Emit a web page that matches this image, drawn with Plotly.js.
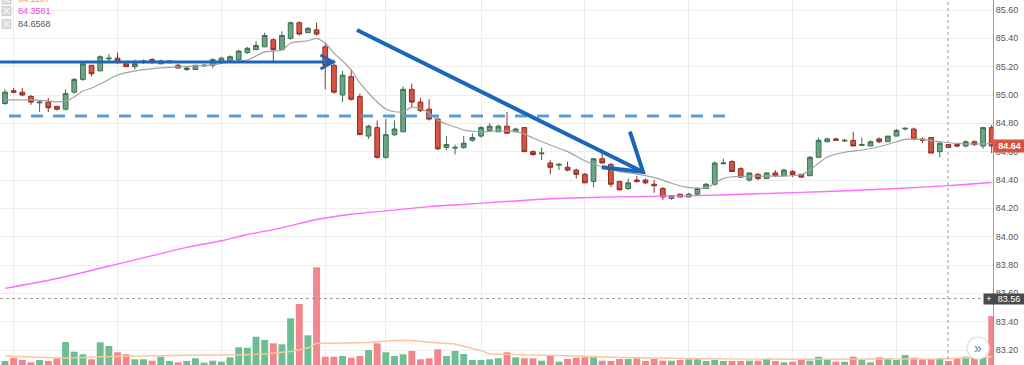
<!DOCTYPE html>
<html>
<head>
<meta charset="utf-8">
<script src="https://cdn.plot.ly/plotly-3.0.1.min.js"></script>
<style>
html,body{margin:0;padding:0;background:#fff;overflow:hidden;}
#chart{width:1024px;height:365px;}
</style>
</head>
<body>
<div id="chart"></div>
<script>
// ---- Data (candle index 0..114) ----
const opens = [84.94,85.03,85.02,84.99,84.945,84.95,84.92,84.90,85.02,85.11,85.21,85.17,85.255,85.26,85.22,85.20,85.235,85.25,85.22,85.235,85.21,85.18,85.18,85.205,85.21,85.23,85.24,85.25,85.30,85.32,85.34,85.39,85.32,85.40,85.51,85.44,85.46,85.34,85.21,85.00,85.13,84.99,84.71,84.77,84.56,84.72,84.74,85.04,84.95,84.90,84.83,84.63,84.625,84.63,84.68,84.71,84.75,84.74,84.78,84.74,84.77,84.60,84.585,84.52,84.505,84.49,84.47,84.44,84.39,84.55,84.51,84.39,84.34,84.40,84.40,84.37,84.34,84.27,84.30,84.28,84.30,84.34,84.37,84.515,84.53,84.48,84.40,84.44,84.41,84.45,84.43,84.46,84.44,84.43,84.56,84.67,84.69,84.675,84.68,84.645,84.64,84.69,84.67,84.71,84.76,84.76,84.69,84.70,84.60,84.65,84.65,84.64,84.67,84.64,84.77];
const highs = [85.04,85.05,85.05,85.00,84.96,84.98,84.92,85.04,85.12,85.23,85.21,85.28,85.29,85.30,85.22,85.25,85.25,85.26,85.25,85.24,85.22,85.20,85.21,85.22,85.26,85.27,85.28,85.32,85.34,85.38,85.44,85.40,85.45,85.52,85.52,85.48,85.51,85.37,85.25,85.17,85.18,85.01,84.79,84.82,84.83,84.82,85.06,85.08,84.98,84.97,84.84,84.71,84.65,84.71,84.73,84.78,84.80,84.79,84.88,84.77,84.77,84.61,84.63,84.54,84.52,84.53,84.48,84.45,84.55,84.59,84.52,84.39,84.41,84.43,84.41,84.40,84.35,84.29,84.30,84.31,84.35,84.38,84.53,84.55,84.54,84.49,84.45,84.45,84.45,84.47,84.48,84.47,84.44,84.57,84.70,84.70,84.70,84.69,84.74,84.70,84.68,84.70,84.71,84.76,84.77,84.77,84.70,84.70,84.67,84.65,84.65,84.68,84.68,84.77,84.79];
const lows = [84.93,85.01,84.99,84.93,84.88,84.88,84.89,84.89,85.01,85.10,85.13,85.17,85.24,85.22,85.20,85.18,85.22,85.22,85.22,85.22,85.19,85.17,85.18,85.20,85.19,85.22,85.23,85.24,85.29,85.32,85.34,85.24,85.32,85.39,85.42,85.44,85.42,85.04,85.01,84.95,84.96,84.72,84.69,84.55,84.55,84.71,84.74,84.91,84.88,84.82,84.61,84.61,84.58,84.62,84.67,84.70,84.74,84.74,84.73,84.74,84.60,84.57,84.54,84.44,84.47,84.46,84.41,84.38,84.35,84.52,84.35,84.33,84.33,84.38,84.37,84.31,84.26,84.26,84.28,84.28,84.29,84.34,84.36,84.51,84.46,84.42,84.39,84.40,84.41,84.42,84.43,84.42,84.42,84.43,84.56,84.67,84.68,84.67,84.64,84.64,84.64,84.66,84.67,84.71,84.75,84.68,84.66,84.59,84.56,84.63,84.63,84.63,84.64,84.62,84.59];
const closes = [85.02,85.02,85.00,84.95,84.95,84.91,84.90,85.01,85.11,85.22,85.15,85.27,85.26,85.24,85.20,85.22,85.24,85.23,85.24,85.24,85.19,85.19,85.21,85.21,85.25,85.26,85.27,85.31,85.33,85.35,85.42,85.32,85.42,85.51,85.43,85.47,85.43,85.21,85.02,85.14,84.97,84.72,84.78,84.56,84.72,84.76,85.04,84.95,84.89,84.83,84.62,84.65,84.63,84.66,84.70,84.77,84.78,84.78,84.73,84.76,84.60,84.58,84.59,84.49,84.51,84.47,84.44,84.38,84.55,84.52,84.37,84.33,84.38,84.39,84.38,84.36,84.28,84.29,84.28,84.30,84.34,84.37,84.52,84.52,84.46,84.42,84.45,84.41,84.45,84.43,84.47,84.44,84.42,84.56,84.68,84.69,84.68,84.68,84.64,84.65,84.67,84.67,84.71,84.75,84.765,84.69,84.68,84.59,84.66,84.63,84.64,84.67,84.65,84.77,84.64];
const volumes = [40,73,50,27,50,40,67,230,133,107,57,227,190,127,107,57,57,43,83,40,27,40,67,23,43,33,77,177,173,283,250,217,207,467,610,297,977,83,83,90,73,90,150,217,127,90,107,140,57,67,157,90,140,110,50,50,57,67,127,77,67,67,43,90,33,60,73,77,77,43,40,60,60,67,40,60,43,43,50,57,67,40,50,40,40,40,43,43,63,40,27,33,57,43,83,50,33,33,83,50,27,77,67,50,100,73,57,57,67,40,67,83,110,100,490];

// short moving average (gray), read at sample candles
const smaIdx  = [0,3,5,6,7,8,9,10,11,13,15,18,20,22,24,26,28,30,32,33,35,36,37,38,39,40,41,42,43,44,45,46,47,48,49,50,51,52,53,55,57,59,60,61,63,65,67,69,71,73,75,77,79,81,82,83,84,86,88,90,92,93,94,95,97,99,101,103,104,106,108,110,112,114];
const smaVals = [84.965,84.965,84.958,84.951,84.958,84.986,85.028,85.049,85.078,85.141,85.169,85.191,85.198,85.205,85.212,85.235,85.247,85.304,85.318,85.367,85.383,85.400,85.367,85.296,85.240,85.177,85.085,85.014,84.951,84.901,84.882,84.882,84.915,84.901,84.873,84.824,84.795,84.774,84.753,84.741,84.746,84.741,84.725,84.696,84.647,84.600,84.536,84.492,84.459,84.442,84.419,84.377,84.346,84.344,84.379,84.412,84.423,84.428,84.428,84.428,84.435,84.471,84.518,84.562,84.596,84.612,84.635,84.670,84.687,84.687,84.670,84.658,84.654,84.657];

// long moving average (magenta)
const maIdx  = [0,6,11,17,21,25,28,31,34,36,40,44,49,54,63,69,80,86,92,98,103,109,114];
const maVals = [83.635,83.705,83.777,83.866,83.924,83.971,84.015,84.050,84.092,84.121,84.158,84.182,84.212,84.232,84.268,84.279,84.290,84.301,84.313,84.326,84.340,84.360,84.382];

// volume moving average (orange)
const volMaIdx  = [0,3,7,11,15,19,23,27,30,33,35,36,38,42,45,47,49,52,54,55,56,58,62,66,70,73,77,80,92,103,109,114];
const volMaVals = [90,77,67,83,90,100,100,100,110,135,170,217,217,225,245,245,227,210,165,143,110,107,100,90,77,73,67,63,57,57,63,83];

const yTicks = [83.20,83.40,83.60,83.80,84.00,84.20,84.40,84.60,84.80,85.00,85.20,85.40,85.60];
const timeGridIdx = [1,13,25,37,44,55,67,79,91,103];
const legendTexts = ["84.1187","84.3581","84.6568"];
const lastPrice = 84.64;
const crossPrice = 83.563;
const crossIdx = 108.95;

// ---- Build ----
const idx = opens.map((_, i) => i);
const volColors = idx.map(i => closes[i] >= opens[i] ? '#6cbf93' : '#f2868d');

const W = 993, H = 365;           // plot area in px
const px = v => v / W;            // px -> paper x
const py = v => 1 - v / H;        // px -> paper y

const traces = [
  {type:'bar', x: idx, y: volumes, yaxis:'y2', marker:{color: volColors, line:{width:0}}, hoverinfo:'skip'},
  {type:'scatter', mode:'lines', x: volMaIdx, y: volMaVals, yaxis:'y2', line:{color:'#ffc49a', width:1.4}, hoverinfo:'skip'},
  {type:'scatter', mode:'lines', x: maIdx, y: maVals, line:{color:'#ff6dff', width:1.4, shape:'spline', smoothing:0.8}, hoverinfo:'skip'},
  {type:'scatter', mode:'lines', x: smaIdx, y: smaVals, line:{color:'#a3a3a3', width:1.2, shape:'spline', smoothing:0.6}, hoverinfo:'skip'},
  {type:'candlestick', x: idx, open: opens, high: highs, low: lows, close: closes,
   increasing:{line:{color:'#3d6e50', width:1}, fillcolor:'#6ba583'},
   decreasing:{line:{color:'#8e2f25', width:1}, fillcolor:'#d75442'},
   whiskerwidth:0, hoverinfo:'skip'}
];

const blue = '#1b66b9';
const shapes = [
  // crosshair
  {type:'line', xref:'x', yref:'paper', x0:crossIdx, x1:crossIdx, y0:0, y1:1, line:{color:'#9a9a9a', width:1, dash:'3px,3px'}},
  {type:'line', xref:'paper', yref:'y', x0:0, x1:1, y0:crossPrice, y1:crossPrice, line:{color:'#9a9a9a', width:1, dash:'3px,3px'}},
  // dashed support line
  {type:'line', xref:'x', yref:'y', x0:0.46, x1:84.1, y0:84.852, y1:84.852, line:{color:'#5b9bd8', width:3, dash:'12px,10px'}},
  // horizontal arrow
  {type:'line', xref:'x', yref:'y', x0:-1, x1:37.9, y0:85.233, y1:85.233, line:{color:blue, width:3}},
  {type:'path', xref:'x', yref:'y', path:'M 36.45 85.282 L 37.9 85.233 L 36.45 85.184', line:{color:blue, width:3}},
  // diagonal arrow
  {type:'line', xref:'x', yref:'y', x0:40.67, y0:85.459, x1:73.72, y1:84.4565, line:{color:blue, width:4}},
  {type:'path', xref:'x', yref:'y', path:'M 72.2 84.741 L 73.72 84.4565 L 68.95 84.490', line:{color:blue, width:4}},
  // button
  {type:'circle', xref:'paper', yref:'paper', x0:px(967), x1:px(989), y0:py(359), y1:py(337), fillcolor:'#ffffff', line:{color:'#e4e4e4', width:1.5}, layer:'above'}
];
// legend icons
[-5, 6.5, 19.5].forEach(top => {
  shapes.push({type:'rect', xref:'paper', yref:'paper', x0:px(2), x1:px(11), y0:py(top+9), y1:py(top), fillcolor:'#dcdcdc', line:{color:'#cfcfcf', width:1}, layer:'above'});
  shapes.push({type:'path', xref:'paper', yref:'paper',
    path:`M ${px(3.5)} ${py(top+1.5)} L ${px(9.5)} ${py(top+7.5)} M ${px(9.5)} ${py(top+1.5)} L ${px(3.5)} ${py(top+7.5)}`,
    line:{color:'#ffffff', width:1}, layer:'above'});
});

const annotations = [
  {xref:'paper', yref:'paper', x:px(16), y:py(-1), xanchor:'left', yanchor:'middle', text:legendTexts[0], showarrow:false, font:{size:9, color:'#ff9a3c'}},
  {xref:'paper', yref:'paper', x:px(16), y:py(11), xanchor:'left', yanchor:'middle', text:legendTexts[1], showarrow:false, font:{size:9, color:'#f23ef2'}},
  {xref:'paper', yref:'paper', x:px(16), y:py(24), xanchor:'left', yanchor:'middle', text:legendTexts[2], showarrow:false, font:{size:9, color:'#555555'}},
  {xref:'paper', yref:'y', x:1, y:lastPrice, xanchor:'left', yanchor:'middle', text:'<b>' + lastPrice.toFixed(2) + '</b>', showarrow:false,
   bgcolor:'#d75442', borderpad:1, width:29, align:'center', font:{size:9, color:'#ffffff'}},
  {xref:'paper', yref:'y', x:1, y:crossPrice, xanchor:'left', yanchor:'middle', text:crossPrice.toFixed(2), showarrow:false,
   bgcolor:'#4a4a4a', borderpad:0, width:30, align:'center', font:{size:9, color:'#ffffff'}},
  {xref:'paper', yref:'y', x:px(983), y:crossPrice, xanchor:'left', yanchor:'middle', text:'+', showarrow:false,
   bgcolor:'#4a4a4a', borderpad:0, width:10, align:'center', font:{size:9, color:'#ffffff'}},
  {xref:'paper', yref:'paper', x:px(978), y:py(348), xanchor:'center', yanchor:'middle', text:'»', showarrow:false, font:{size:14, color:'#5b7aa5'}}
];

const layout = {
  width:1024, height:365,
  margin:{l:0, r:31, t:0, b:0, pad:0},
  paper_bgcolor:'#ffffff', plot_bgcolor:'#ffffff',
  font:{family:'Liberation Sans, Arial, sans-serif', size:9, color:'#555555'},
  showlegend:false,
  bargap:0.2,
  boxgap:0.22,
  xaxis:{range:[-0.578, 114.15], tickvals: timeGridIdx, showticklabels:false, ticks:'', showgrid:true, gridcolor:'#ededed', gridwidth:1, zeroline:false, rangeslider:{visible:false}, fixedrange:true},
  yaxis:{side:'right', range:[83.0942, 85.6706], tickvals:yTicks, ticktext:yTicks.map(v=>v.toFixed(2)), showgrid:true, gridcolor:'#ededed', gridwidth:1, zeroline:false,
         showline:true, linecolor:'#9c9c9c', linewidth:1, ticks:'', tickfont:{size:9, color:'#555555'}, fixedrange:true, automargin:false},
  yaxis2:{overlaying:'y', range:[0, 3650], visible:false, fixedrange:true},
  shapes: shapes,
  annotations: annotations
};

Plotly.newPlot('chart', traces, layout, {displayModeBar:false, staticPlot:true});
</script>
</body>
</html>
